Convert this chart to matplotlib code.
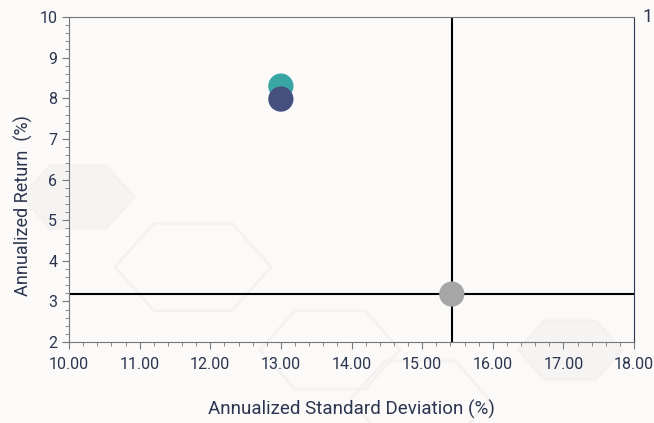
import matplotlib.pyplot as plt
from matplotlib.patches import RegularPolygon
from matplotlib.ticker import MultipleLocator, FormatStrFormatter

# data
std_dev = [13.0, 13.0, 15.42]
returns = [8.30, 7.98, 3.18]
colors = ["#3aa6a4", "#46507e", "#a6a6a6"]
cross_x = 15.42
cross_y = 3.18

plt.rcParams['font.family'] = ['Roboto', 'DejaVu Sans']

fig = plt.figure(figsize=(6.54, 4.23), dpi=100)
fig.patch.set_facecolor("#fbfaf8")

# faint decorative hexagons in the background
hexes = [((78, 197), 56, True), ((193, 267), 78, False), ((330, 350), 70, False),
         ((570, 350), 52, True), ((420, 400), 70, False)]
for (cx, cy), r, filled in hexes:
    h = RegularPolygon((cx / 654, 1 - cy / 423), 6, radius=r / 654, orientation=0.5236,
                       transform=fig.transFigure, facecolor="#f5f4f2" if filled else "none",
                       edgecolor="#f3f2f0", lw=2, zorder=-5)
    fig.patches.append(h)

ax = fig.add_axes([69 / 654, 1 - 342 / 423, (634 - 69) / 654, (342 - 17) / 423])
ax.set_zorder(2)
ax.set_facecolor("none")

ax.axvline(cross_x, color="black", lw=1.5, zorder=2)
ax.axhline(cross_y, color="black", lw=1.5, zorder=2)
ax.scatter(std_dev, returns, s=330, c=colors, zorder=3, linewidths=0)

ax.set_xlim(10, 18)
ax.set_ylim(2, 10)
ax.xaxis.set_major_locator(MultipleLocator(1))
ax.xaxis.set_minor_locator(MultipleLocator(0.2))
ax.yaxis.set_major_locator(MultipleLocator(1))
ax.yaxis.set_minor_locator(MultipleLocator(0.2))
ax.xaxis.set_major_formatter(FormatStrFormatter("%.2f"))

for s in ["left", "bottom", "top"]:
    ax.spines[s].set_color("#777777")
ax.spines["right"].set_color("#2b3550")
ax.tick_params(which="both", colors="#777777", labelcolor="#2b3550", labelsize=11.5)
ax.tick_params(which="major", length=5)
ax.tick_params(which="minor", length=3)
ax.tick_params(axis="x", pad=6)

ax.set_xlabel("Annualized Standard Deviation (%)", fontsize=13.5, color="#2b3550", labelpad=20)
ax.set_ylabel("Annualized Return  (%)", fontsize=13, color="#2b3550")
ax.yaxis.set_label_coords(-36 / 565, 0.42)

fig.text(643 / 654, 1 - 17 / 423, "1", fontsize=13, color="#2b3550", va="center", ha="left")

fig.savefig("out.png", dpi=100, facecolor=fig.get_facecolor())
